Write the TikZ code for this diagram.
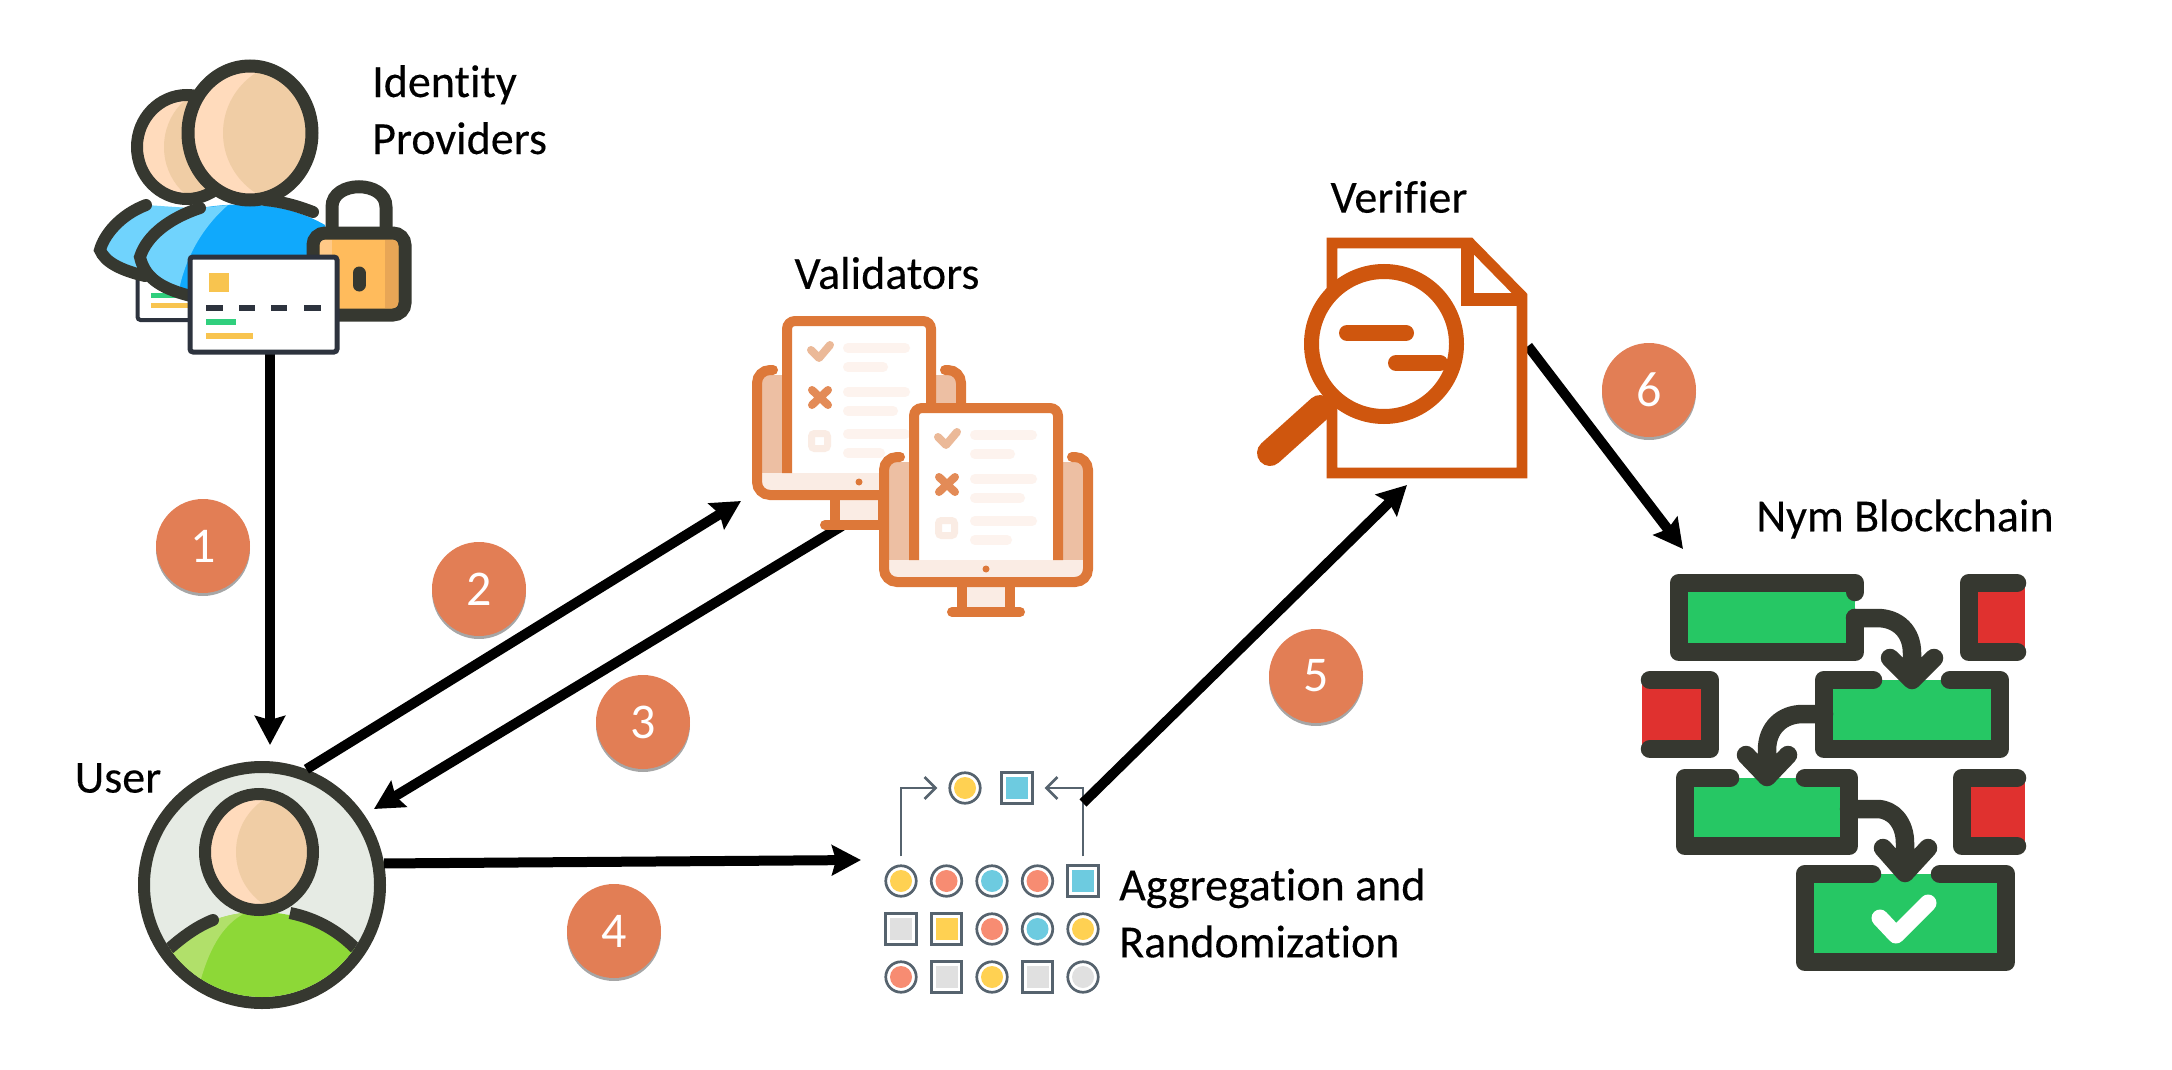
\documentclass[tikz,border=0pt]{standalone}
\usepackage{fontspec}
\newfontfamily\labelfont{Carlito}[Ligatures=NoCommon,FakeBold=0.25]
\setmainfont{Carlito}[Ligatures=NoCommon]
\usetikzlibrary{positioning}
\usetikzlibrary{arrows.meta}
\usetikzlibrary{shadows}
\usepackage{xcolor}

\definecolor{ink}{HTML}{363830}
\definecolor{skin}{HTML}{FFDBBC}
\definecolor{skindark}{HTML}{F0CDA5}
\definecolor{bluemain}{HTML}{10A9FC}
\definecolor{bluelight}{HTML}{70D3FD}
\definecolor{lockmain}{HTML}{FFBB5C}
\definecolor{lockdark}{HTML}{E8A656}
\definecolor{locklight}{HTML}{FFC987}
\definecolor{cardline}{HTML}{2D333E}
\definecolor{barGold}{HTML}{F8C44F}
\definecolor{barGreen}{HTML}{30CF7D}
\definecolor{ringfill}{HTML}{E6EBE4}
\definecolor{shirt}{HTML}{8DD837}
\definecolor{shirtlight}{HTML}{B1E06A}
\definecolor{monline}{HTML}{DD7839}
\definecolor{monband}{HTML}{EDBFA3}
\definecolor{monpale}{HTML}{FAECE4}
\definecolor{monbar}{HTML}{FDF3EE}
\definecolor{moncheck}{HTML}{EBB998}
\definecolor{moncross}{HTML}{E38B57}
\definecolor{lens}{HTML}{CF560E}
\definecolor{numfill}{HTML}{E27E55}
\definecolor{tokline}{HTML}{56636E}
\definecolor{tokY}{HTML}{FFD152}
\definecolor{tokS}{HTML}{F78C72}
\definecolor{tokC}{HTML}{6DCBE0}
\definecolor{tokG}{HTML}{E0E0E0}
\definecolor{chain}{HTML}{26C764}
\definecolor{redblock}{HTML}{E0312F}

\tikzset{
  flow/.style={-{Stealth[length=29pt,width=30pt,inset=4pt]},line width=10pt,black},
  label/.style={font=\labelfont\fontsize{46}{57}\selectfont,align=left,inner sep=0pt},
  num/.style={circle,fill=numfill,text=white,minimum size=94pt,inner sep=0pt,font=\fontsize{50}{54}\selectfont,
    drop shadow={shadow xshift=0pt,shadow yshift=-3pt,opacity=0.35,fill=black}},
  tokc/.style={circle,draw=tokline,line width=2.7pt,fill=white,minimum size=30.5pt,inner sep=0pt,
    path picture={\fill[#1] (path picture bounding box.center) circle (11);}},
  toks/.style={rectangle,draw=tokline,line width=2.7pt,fill=white,minimum size=30.5pt,inner sep=0pt,
    path picture={\fill[#1,shift={(path picture bounding box.center)}] (-11,-11) rectangle (11,11);}},
  thin/.style={->,>={Straight Barb[length=11pt,width=22pt]},line width=2.6pt,tokline},
  chainline/.style={draw=ink,line width=18.5pt,line cap=round,line join=round},
  monitor/.pic={
    \fill[white,rounded corners=8] (0,0) rectangle (144,152);
    \fill[monband] (-30,54) rectangle (0,155);
    \fill[monband] (144,54) rectangle (174,155);
    \fill[monpale] (-30,152) rectangle (174,170);
    \fill[monpale] (48,174) rectangle (96,204);
    \draw[monline,line width=10pt,rounded corners=8] (0,152) -- (0,0) -- (144,0) -- (144,152);
    \draw[monline,line width=10pt,line cap=round,rounded corners=13] (-14,49) -- (-30,49) -- (-30,174) -- (174,174) -- (174,49) -- (158,49);
    \draw[monline,line width=10pt] (48,174) -- (48,204) (96,174) -- (96,204);
    \draw[monline,line width=10pt,line cap=round] (38,204) -- (106,204);
    \fill[monline] (72,161) circle (3.5);
    \draw[moncheck,line width=8pt,line cap=round,line join=round] (24,29) -- (32,37) -- (43,24);
    \draw[moncross,line width=8pt,line cap=round] (25,69) -- (41,84) (41,69) -- (25,84);
    \draw[monpale,line width=7pt,rounded corners=3] (24.5,112.5) rectangle (40.5,127.5);
    \draw[monbar,line width=10pt,line cap=round]
      (61,27) -- (118,27) (61,46) -- (96,46)
      (61,71) -- (118,71) (61,90) -- (106,90)
      (61,113) -- (118,113) (61,132) -- (93,132);
  },
}

\begin{document}
\begin{tikzpicture}[x=1pt,y=-1pt,node distance=48pt and 45.5pt,on grid]
  \useasboundingbox (0,0) rectangle (2172,1070);

  % aggregation tokens
  \node[tokc=tokY] (t11) at (901,881) {};
  \node[tokc=tokS] (t12) [right=of t11] {};
  \node[tokc=tokC] (t13) [right=of t12] {};
  \node[tokc=tokS] (t14) [right=of t13] {};
  \node[toks=tokC] (t15) [right=of t14] {};
  \node[toks=tokG] (t21) [below=of t11] {};
  \node[toks=tokY] (t22) [right=of t21] {};
  \node[tokc=tokS] (t23) [right=of t22] {};
  \node[tokc=tokC] (t24) [right=of t23] {};
  \node[tokc=tokY] (t25) [right=of t24] {};
  \node[tokc=tokS] (t31) [below=of t21] {};
  \node[toks=tokG] (t32) [right=of t31] {};
  \node[tokc=tokY] (t33) [right=of t32] {};
  \node[toks=tokG] (t34) [right=of t33] {};
  \node[tokc=tokG] (t35) [right=of t34] {};
  \node[tokc=tokY] (r1) at (965,788) {};
  \node[toks=tokC] (r2) at (1017,788) {};
  \draw[thin] ([yshift=8pt]t11.north) |- ([xshift=-11pt]r1.west);
  \draw[thin] ([yshift=8pt]t15.north) |- ([xshift=11pt]r2.east);

  % free ends of the big arrows
  \coordinate (cardout) at (270,350);
  \coordinate (userin) at (270,745);
  \coordinate (valin) at (741,501);
  \coordinate (valout) at (842,526);
  \coordinate (userback) at (374,809);
  \coordinate (aggin) at (861,860);
  \coordinate (aggout) at (1083,803);
  \coordinate (verin) at (1407,485);
  \coordinate (verout) at (1528,346);
  \coordinate (chainin) at (1683,549);

  \node[circle,draw=ink,line width=12pt,fill=ringfill,minimum size=236pt,inner sep=0pt] (user) at (262,885) {};

  \path [flow]
    (cardout) edge [] (userin)
    (user.69) edge [] (valin)
    (valout) edge [] (userback)
    (user.10) edge [] (aggin)
    (aggout) edge [] (verin)
    (verout) edge [] (chainin);

  % user
  \begin{scope}
    \clip (262,885) circle (112);
    \fill[shirt] (170,948) .. controls (195,925) and (225,912) .. (259,912) .. controls (295,912) and (330,925) .. (355,948) -- (355,1010) -- (170,1010) -- cycle;
    \fill[shirtlight] (170,948) .. controls (195,925) and (220,915) .. (245,913) .. controls (222,925) and (208,950) .. (198,990) -- (170,990) -- cycle;
    \draw[ink,line width=12pt,line cap=round] (213,920) .. controls (198,926) and (185,935) .. (170,948);
    \draw[ink,line width=12pt] (290,913) .. controls (315,918) and (337,930) .. (355,948);
  \end{scope}
  \fill[skin] (259,852) ellipse (54 and 58);
  \begin{scope}
    \clip (259,852) ellipse (54 and 58);
    \fill[skindark] (296,852) ellipse (60 and 62);
  \end{scope}
  \draw[ink,line width=12pt] (259,852) ellipse (54 and 58);

  % identity providers
  \node[draw=cardline,line width=4pt,fill=white,minimum width=103pt,minimum height=50pt,rounded corners=3pt] (card2) at (189,295) {};
  \fill[barGreen] (151,293) rectangle (190,298);
  \fill[barGold] (151,303) rectangle (190,308);
  \fill[bluelight] (146,205) .. controls (120,215) and (104,235) .. (100,250) .. controls (105,262) and (120,270) .. (145,276) -- (220,276) -- (220,210) -- cycle;
  \draw[ink,line width=12pt,line cap=round] (146,205) .. controls (120,215) and (104,235) .. (100,250) .. controls (105,262) and (120,270) .. (145,276);
  \fill[skin] (187,147) ellipse (50 and 52);
  \begin{scope}
    \clip (187,147) ellipse (50 and 52);
    \fill[skindark] (220,147) ellipse (56 and 60);
  \end{scope}
  \draw[ink,line width=12pt] (187,147) ellipse (50 and 52);
  \fill[bluemain] (200,208) .. controls (250,200) and (290,205) .. (325,225) -- (335,300) -- (190,300) .. controls (165,290) and (145,280) .. (140,257) .. controls (147,235) and (170,218) .. (200,208) -- cycle;
  \fill[bluelight] (200,208) .. controls (170,218) and (147,235) .. (140,257) .. controls (145,280) and (165,290) .. (178,295) -- (178,295) .. controls (185,255) and (205,225) .. (228,205) -- cycle;
  \draw[ink,line width=12pt,line cap=round] (200,208) .. controls (170,218) and (147,235) .. (140,257) .. controls (145,280) and (165,290) .. (195,297);
  \draw[ink,line width=12pt,line cap=round] (265,200) .. controls (285,202) and (300,207) .. (313,212);
  \fill[skin] (250,133) ellipse (62 and 67);
  \begin{scope}
    \clip (250,133) ellipse (62 and 67);
    \fill[skindark] (296,133) ellipse (73 and 72);
  \end{scope}
  \draw[ink,line width=13pt] (250,133) ellipse (62 and 67);
  \draw[ink,line width=13pt] (332,227) -- (332,207) .. controls (332,180) and (386,180) .. (386,207) -- (386,227);
  \fill[lockmain,rounded corners=12] (313,233) rectangle (405,315);
  \fill[locklight] (320,240) rectangle (332,270);
  \fill[lockdark] (385,240) rectangle (398,308);
  \draw[ink,line width=13pt,rounded corners=12] (313,233) rectangle (405,315);
  \draw[ink,line width=13pt,line cap=round] (359,273) -- (359,285);
  \node[draw=cardline,line width=5pt,fill=white,minimum width=147pt,minimum height=95pt,rounded corners=3pt] (card) at (263.5,304.5) {};
  \fill[barGold] (209,273) rectangle (229,292);
  \draw[cardline,line width=6pt] (206,308) -- (223,308) (239,308) -- (255,308) (271,308) -- (287,308) (304,308) -- (321,308);
  \draw[barGreen,line width=6pt] (206,322) -- (236,322);
  \draw[barGold,line width=6pt] (206,336) -- (253,336);

  % validators
  \pic at (787,321) {monitor};
  \pic at (914,408) {monitor};

  % verifier
  \draw[lens,line width=10.6pt,miter limit=4,fill=white] (1332,243) -- (1470,243) -- (1522,296) -- (1522,473) -- (1332,473) -- cycle;
  \draw[lens,line width=13pt] (1467,243) -- (1467,299) -- (1522,299);
  \draw[lens,line width=26pt,line cap=round] (1270,453) -- (1320,408);
  \draw[lens,line width=15pt,fill=white] (1384,344) circle (72.5);
  \draw[lens,line width=16pt,line cap=round] (1347,333) -- (1406,333);
  \draw[lens,line width=16pt,line cap=round] (1396,363) -- (1440,363);

  % blockchain
  \fill[chain] (1679,583) rectangle (1855,652);
  \draw[chainline] (1855,592) -- (1855,583) -- (1679,583) -- (1679,652) -- (1855,652) -- (1855,618);
  \fill[chain] (1824,680) rectangle (2000,749);
  \draw[chainline] (1873,680) -- (1824,680) -- (1824,749) -- (2000,749) -- (2000,680) -- (1950,680);
  \fill[chain] (1685,778) rectangle (1849,846);
  \draw[chainline] (1730,778) -- (1685,778) -- (1685,846) -- (1849,846) -- (1849,778) -- (1805,778);
  \fill[chain] (1805,874) rectangle (2006,962);
  \draw[chainline] (1872,874) -- (1805,874) -- (1805,962) -- (2006,962) -- (2006,874) -- (1940,874);
  \fill[redblock] (1969,583) rectangle (2025,652);
  \draw[chainline] (2017,583) -- (1969,583) -- (1969,652) -- (2017,652);
  \fill[redblock] (1642,680) rectangle (1710,749);
  \draw[chainline] (1650,680) -- (1710,680) -- (1710,749) -- (1650,749);
  \fill[redblock] (1962,778) rectangle (2025,846);
  \draw[chainline] (2017,778) -- (1962,778) -- (1962,846) -- (2017,846);
  \draw[chainline] (1855,618) -- (1877,618) .. controls (1898,618) and (1912,632) .. (1912,653) -- (1912,680) (1890,658) -- (1912,680) -- (1934,658);
  \draw[chainline] (1824,714) -- (1803,714) .. controls (1782,714) and (1767,728) .. (1767,750) -- (1767,777) (1746,755) -- (1767,777) -- (1788,755);
  \draw[chainline] (1849,809) -- (1877,809) .. controls (1893,809) and (1905,823) .. (1905,843) -- (1905,873) (1883,848) -- (1905,873) -- (1928,848);
  \draw[white,line width=17pt,line cap=round,line join=round] (1880,918) -- (1896,935) -- (1928,903);

  % labels
  \node[label,anchor=base west] (idplabel) at (372,154) {Identity\\Providers};
  \node[label] (vallabel) at (887,273) {Validators};
  \node[label] (verlabel) at (1399,197) {Verifier};
  \node[label] (chainlabel) at (1905,519) {Nym Blockchain};
  \node[label] (userlabel) at (118,778) {User};
  \node[label,anchor=west] (agglabel) at (1119,913) {Aggregation and\\Randomization};

  % numbers
  \node[num] (n1) at (203,546) {1};
  \node[num] (n2) at (479,589) {2};
  \node[num] (n3) at (643,722) {3};
  \node[num] (n4) at (614,931) {4};
  \node[num] (n5) at (1316,676) {5};
  \node[num] (n6) at (1649,390) {6};
\end{tikzpicture}
\end{document}
